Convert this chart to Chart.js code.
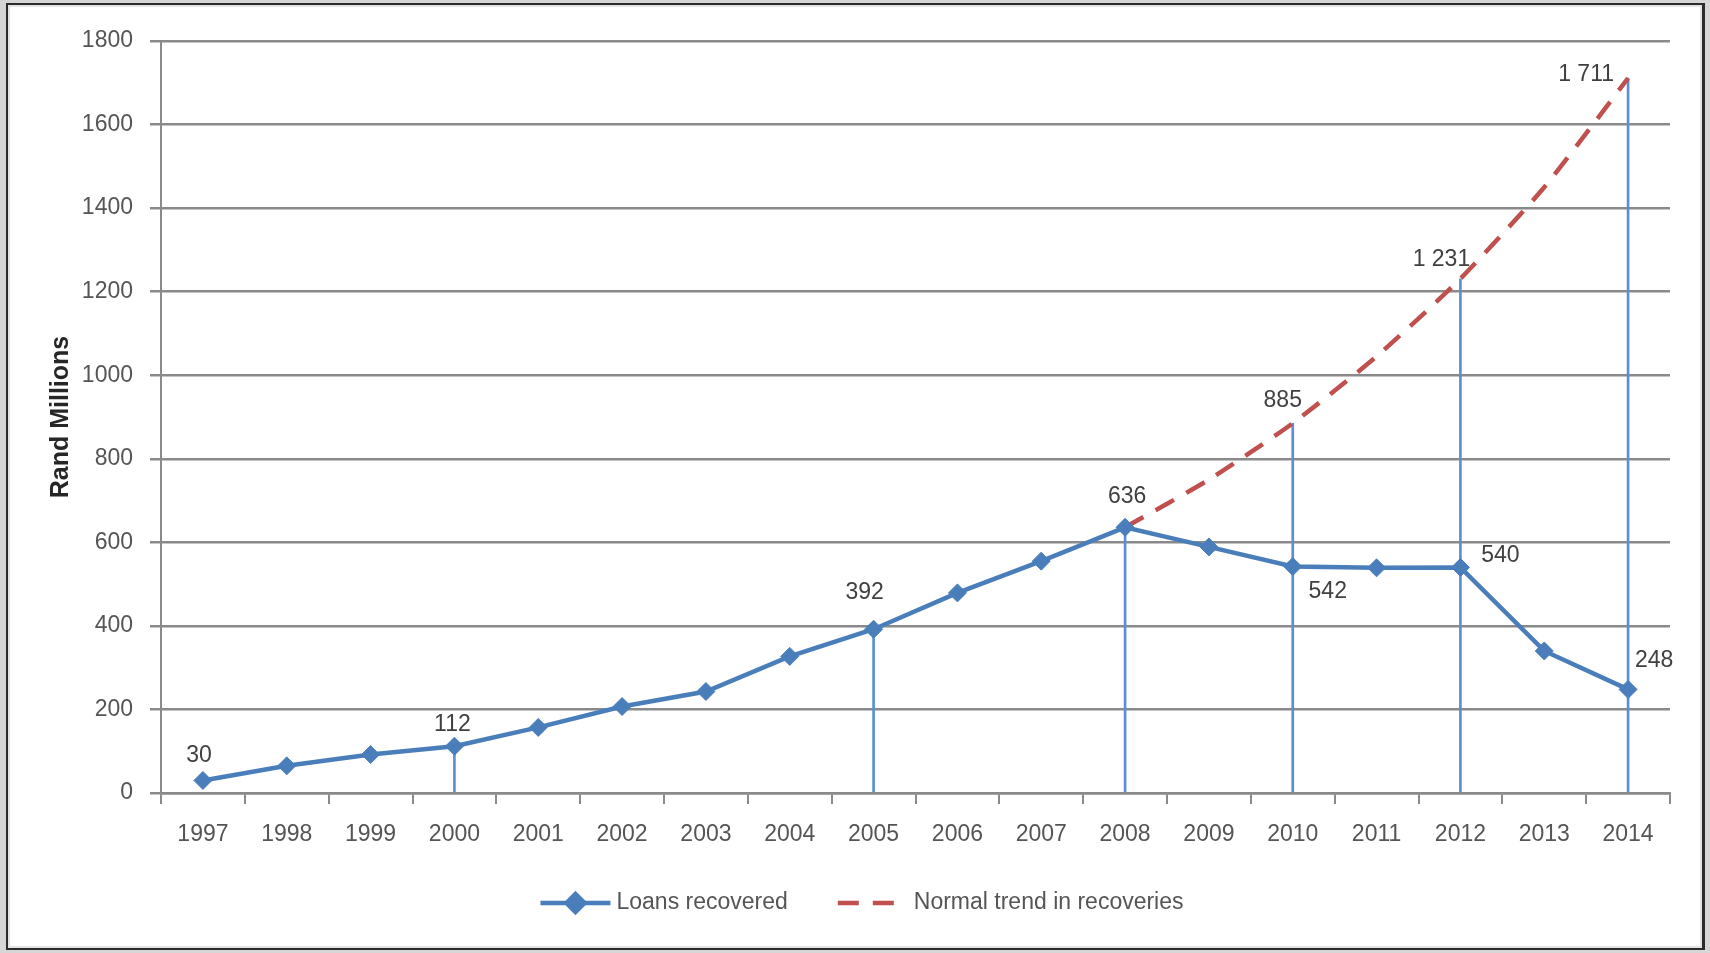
<!DOCTYPE html>
<html>
<head>
<meta charset="utf-8">
<title>Loans recovered</title>
<script src="https://cdn.jsdelivr.net/npm/chart.js@4.4.1/dist/chart.umd.min.js"></script>
<style>
  html, body { margin: 0; padding: 0; background: #d6d6d6; overflow: hidden; }
  #frame {
    position: absolute; left: 6px; top: 3px; width: 1694px; height: 943px;
    background: #fff; border: 2px solid #2b2b2b; border-right-width: 3px;
    box-shadow: inset 0 0 0 2px #e4e4e4;
  }
  #wrap { position: absolute; left: 0; top: 0; width: 1710px; height: 953px; }
</style>
</head>
<body>
<div id="frame"></div>
<div id="wrap"><canvas id="chart"></canvas></div>
<script>
// Values (Rand millions)
const years = ['1997', '1998', '1999', '2000', '2001', '2002', '2003', '2004', '2005',
  '2006', '2007', '2008', '2009', '2010', '2011', '2012', '2013', '2014'];
const loansRecovered = [30, 65, 92, 112, 157, 207, 243, 327, 392, 479, 555, 636, 589, 542, 539, 540, 340, 248];
const normalTrend = [null, null, null, null, null, null, null, null, null, null, null,
  636, 750, 885, 1045, 1231, 1450, 1711];
// thin vertical drop lines under the labelled points
const dropLines = [null, null, null, 112, null, null, null, null, 392, null, null,
  636, null, 885, null, 1231, null, 1711];
const yTicks = [0, 200, 400, 600, 800, 1000, 1200, 1400, 1600, 1800];

// which points carry a value label, and where the text sits relative to the point
const loansLabelOffsets = { 0: [-4, -25], 3: [-2, -22], 8: [-9, -37], 11: [2, -31], 13: [35, 25], 15: [40, -12], 17: [26, -29] };
const trendLabelOffsets = { 13: [-10, -23], 15: [-19, -19], 17: [-42, -4] };

const FONT = '"Liberation Sans", Arial, sans-serif';
const GRID = '#8a8a8a';
const BLUE = '#4a7ebb';
const RED = '#c0504d';
const PAD = { left: 46, right: 40, top: 41, bottom: 106 };

function fmt(v) {
  return String(v).replace(/\B(?=(\d{3})+(?!\d))/g, ' ');
}

const valueLabels = {
  id: 'valueLabels',
  afterDatasetsDraw(chart) {
    const ctx = chart.ctx;
    ctx.save();
    ctx.font = '23px ' + FONT;
    ctx.fillStyle = '#404040';
    ctx.textAlign = 'center';
    ctx.textBaseline = 'middle';
    [[0, loansLabelOffsets], [1, trendLabelOffsets]].forEach(([di, offsets]) => {
      const meta = chart.getDatasetMeta(di);
      const data = chart.data.datasets[di].data;
      Object.keys(offsets).forEach((k) => {
        const pt = meta.data[k];
        if (!pt || data[k] == null) return;
        const [dx, dy] = offsets[k];
        ctx.fillText(fmt(data[k]), pt.x + dx, pt.y + dy);
      });
    });
    ctx.restore();
  }
};

// legend drawn by hand so the line samples look like the original
const sampleLegend = {
  id: 'sampleLegend',
  afterDraw(chart) {
    const ctx = chart.ctx;
    const ds = chart.data.datasets.filter((d) => d.type === 'line');
    const y = 903, centerX = 862, sampleW = 70, textGap = 6, itemGap = 50;
    ctx.save();
    ctx.font = '23px ' + FONT;
    const widths = ds.map((d) => sampleW + textGap + ctx.measureText(d.label).width);
    const total = widths.reduce((a, b) => a + b, 0) + itemGap * (ds.length - 1);
    let x = centerX - total / 2;
    ds.forEach((d, i) => {
      ctx.strokeStyle = d.borderColor;
      ctx.lineWidth = d.borderWidth;
      ctx.setLineDash(d.borderDash || []);
      ctx.beginPath();
      ctx.moveTo(x, y);
      ctx.lineTo(x + (d.borderDash ? 62 : sampleW), y);
      ctx.stroke();
      ctx.setLineDash([]);
      if (d.pointRadius > 0) {
        ctx.fillStyle = d.backgroundColor;
        Chart.helpers.drawPoint(ctx, { pointStyle: d.pointStyle, radius: d.pointRadius, borderWidth: 1 }, x + sampleW / 2, y);
        ctx.fill();
      }
      ctx.fillStyle = '#555';
      ctx.textAlign = 'left';
      ctx.textBaseline = 'middle';
      ctx.fillText(d.label, x + sampleW + textGap, y);
      x += widths[i] + itemGap;
    });
    ctx.restore();
  }
};

new Chart(document.getElementById('chart'), {
  type: 'bar',
  data: {
    labels: years,
    datasets: [
      {
        type: 'line', label: 'Loans recovered', data: loansRecovered,
        borderColor: BLUE, backgroundColor: BLUE, borderWidth: 4.5,
        pointStyle: 'rectRot', pointRadius: 9, pointBorderWidth: 1,
        pointBackgroundColor: BLUE, pointBorderColor: BLUE, tension: 0, order: 1
      },
      {
        type: 'line', label: 'Normal trend in recoveries', data: normalTrend,
        borderColor: RED, backgroundColor: RED, borderWidth: 4.5, borderDash: [21, 14],
        pointRadius: 0, tension: 0.2, order: 2
      },
      {
        type: 'bar', label: 'drop', data: dropLines,
        backgroundColor: '#5b8fd4', barThickness: 2, order: 3
      }
    ]
  },
  options: {
    responsive: true,
    maintainAspectRatio: false,
    animation: false,
    layout: { padding: PAD },
    plugins: { legend: { display: false }, tooltip: { enabled: false } },
    scales: {
      x: {
        offset: true,
        grid: { display: true, drawOnChartArea: false, drawTicks: true, tickLength: 11, color: GRID, lineWidth: 2, offset: true },
        border: { display: true, color: GRID, width: 2.5 },
        ticks: { padding: 17, color: '#555', font: { family: FONT, size: 23 }, maxRotation: 0, autoSkip: false },
        afterFit: (s) => { s.height = 54; }
      },
      y: {
        min: 0, max: 1800,
        afterBuildTicks: (s) => { s.ticks = yTicks.map((v) => ({ value: v })); },
        grid: { color: GRID, lineWidth: 2.5, tickLength: 11, drawTicks: true },
        border: { display: true, color: GRID, width: 2 },
        ticks: { padding: 17, color: '#555', font: { family: FONT, size: 23 }, callback: (v) => String(v) },
        title: {
          display: true, text: 'Rand Millions', color: '#262626',
          font: { family: FONT, size: 25, weight: 'bold' }, padding: { top: 0, bottom: 8 }
        },
        afterFit: (s) => { s.width = 161 - PAD.left; }
      }
    }
  },
  plugins: [valueLabels, sampleLegend]
});
</script>
</body>
</html>
